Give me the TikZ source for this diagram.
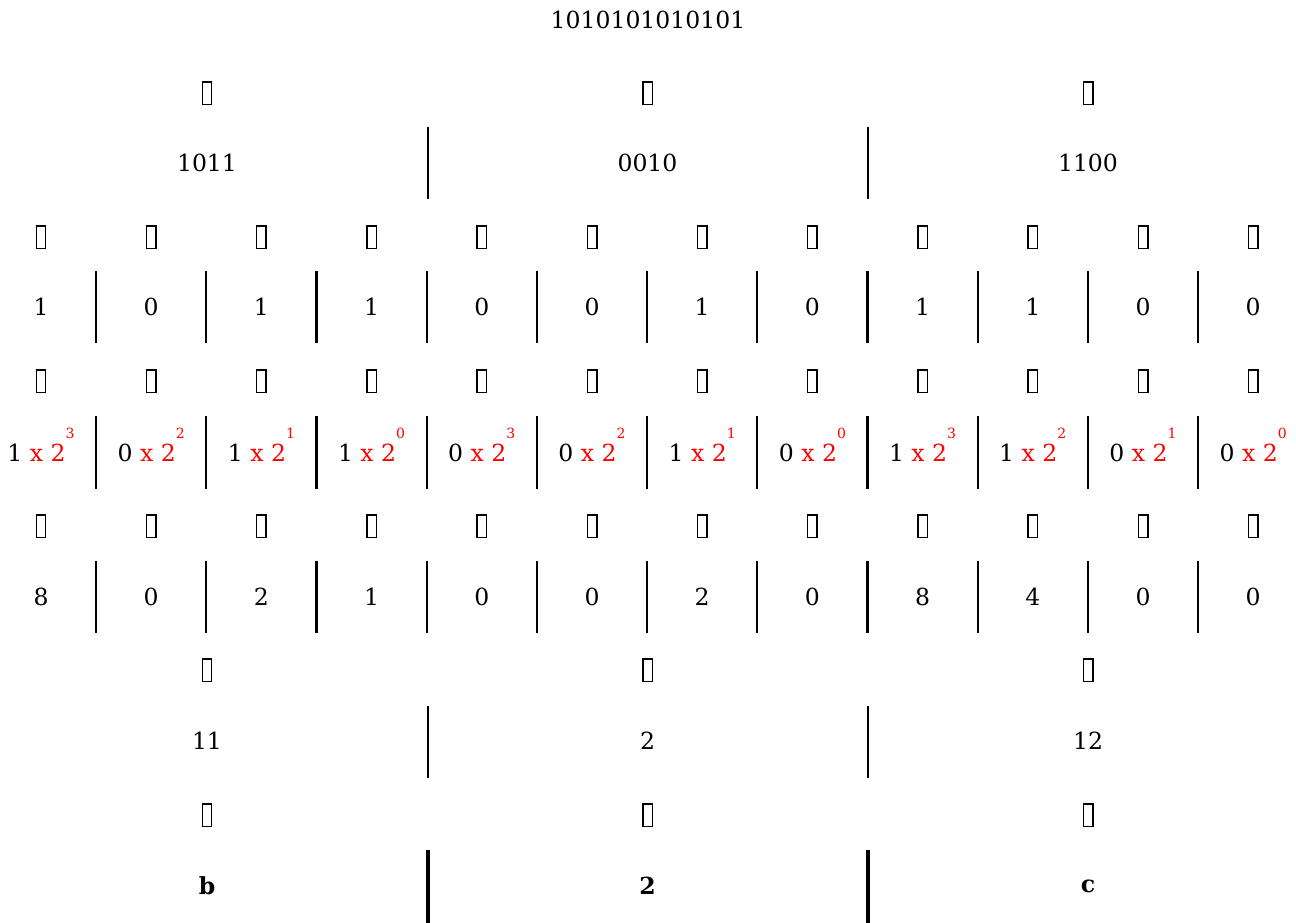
\documentclass[tikz,border=0pt]{standalone}
\usepackage{fontspec}
\setmainfont{DejaVu Serif}
\usetikzlibrary{positioning}

\newcommand{\pwr}[1]{\raisebox{1.0em}[0pt][0pt]{\fontsize{8}{9}\selectfont#1}}

\begin{document}
\begin{tikzpicture}[
  x=0.02cm, y=-0.02cm,
  every node/.style={font=\fontsize{13.4}{16}\selectfont, inner sep=0pt},
  tofu/.style={draw, line width=0.85pt, minimum width=0.19cm, minimum height=0.45cm},
  sep/.style={line width=1.15pt},
  hexsep/.style={line width=2.2pt}
]
\useasboundingbox (0,0) rectangle (1296,923);

%% binary string
\node (title) at (648,20) {1010101010101};

%% nibbles -> sums -> hex (3 groups)
\foreach \nib/\dec/\hx [count=\g from 0] in {1011/11/b, 0010/2/2, 1100/12/c} {
  \pgfmathsetmacro\gx{207+440.5*\g}
  \node[tofu] (arrA\g) at (\gx,93) {};
  \node (nib\g) at (\gx,163) {\nib};
  \node[tofu] (arrE\g) at (\gx,670) {};
  \node (sum\g) at (\gx,741) {\dec};
  \node[tofu] (arrF\g) at (\gx,815) {};
  \node[font=\fontsize{13.4}{16}\selectfont\bfseries] (hex\g) at (\gx,886) {\hx};
}

%% single bits, weights, values (12 columns)
\foreach \bt/\v [count=\i from 0] in {1/8,0/0,1/2,1/1,0/0,0/0,1/2,0/0,1/8,1/4,0/0,0/0} {
  \pgfmathsetmacro\cx{41+110.2*\i}
  \pgfmathtruncatemacro\e{3-mod(\i,4)}
  \node[tofu] (arrB\i) at (\cx,237) {};
  \node (bit\i) at (\cx,307) {\bt};
  \node[tofu] (arrC\i) at (\cx,381) {};
  \node (prod\i) at (\cx,453) {\bt{} \textcolor{red}{x 2\pwr{\e}}};
  \node[tofu] (arrD\i) at (\cx,526) {};
  \node (val\i) at (\cx,597) {\v};
}

%% separators
\foreach \k in {1,...,11} {
  \pgfmathsetmacro\sx{41+110.2*(\k-0.5)}
  \draw[sep] (\sx,271) -- (\sx,343);
  \draw[sep] (\sx,416) -- (\sx,489);
  \draw[sep] (\sx,561) -- (\sx,633);
}
\foreach \sx in {427.7,868.2} {
  \draw[sep] (\sx,127) -- (\sx,199);
  \draw[sep] (\sx,706) -- (\sx,778);
  \draw[hexsep] (\sx,850) -- (\sx,923);
}

\end{tikzpicture}
\end{document}
